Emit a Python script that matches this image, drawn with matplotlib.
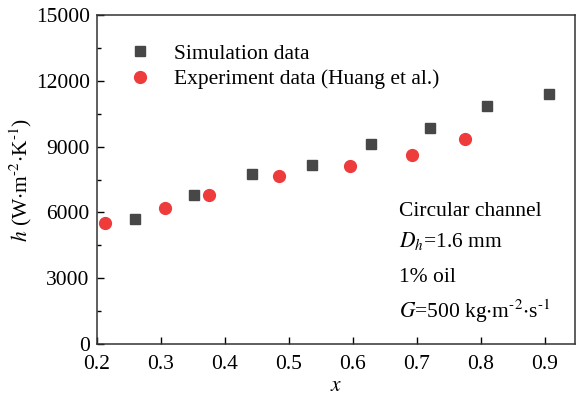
import matplotlib
matplotlib.use('Agg')
import matplotlib.pyplot as plt
from matplotlib.ticker import MultipleLocator

plt.rcParams['font.family'] = ['Liberation Serif', 'DejaVu Serif']
plt.rcParams['mathtext.fontset'] = 'stix'

# simulation data
x_sim = [0.26, 0.352, 0.443, 0.536, 0.629, 0.72, 0.81, 0.907]
h_sim = [5700, 6790, 7750, 8160, 9120, 9850, 10850, 11400]

# experiment data (Huang et al.)
x_exp = [0.213, 0.306, 0.375, 0.484, 0.596, 0.692, 0.776]
h_exp = [5500, 6210, 6790, 7670, 8100, 8600, 9330]

fig = plt.figure(figsize=(5.79, 4.0), dpi=100)
ax = fig.add_axes([0.167, 0.14, 0.826, 0.822])

ax.plot(x_sim, h_sim, 's', color='#474747', markersize=7.5, label='Simulation data')
ax.plot(x_exp, h_exp, 'o', color='#ee3b3b', markersize=8.5, label='Experiment data (Huang et al.)')

ax.set_xlim(0.2, 0.947)
ax.set_ylim(0, 15000)
ax.set_xticks([0.2, 0.3, 0.4, 0.5, 0.6, 0.7, 0.8, 0.9])
ax.set_yticks([0, 3000, 6000, 9000, 12000, 15000])
ax.yaxis.set_minor_locator(MultipleLocator(1500))
ax.tick_params(axis='both', which='both', direction='in', labelsize=15.5)
ax.tick_params(which='major', length=5, width=1)
ax.tick_params(which='minor', length=3, width=1)
ax.tick_params(axis='x', pad=8)
ax.tick_params(axis='y', pad=5)
for s in ax.spines.values():
    s.set_linewidth(1.1)
    s.set_color('#333333')

sup = lambda n: r'$^{\text{-}' + n + '}$'
ax.set_xlabel('$x$', fontsize=15.5, labelpad=2)
ax.set_ylabel(r'$h$ (W$\cdot$m' + sup('2') + r'$\cdot$K' + sup('1') + ')', fontsize=15.5, labelpad=1)

ax.legend(loc='upper left', frameon=False, fontsize=15.5, bbox_to_anchor=(0.02, 0.965),
          handletextpad=0.85, labelspacing=0.25, handlelength=1.5, borderpad=0.3)

tx = 0.633
fs = 15.5
ax.text(tx, 0.39, 'Circular channel', transform=ax.transAxes, fontsize=fs)
ax.text(tx, 0.295, r'$D_h$=1.6 mm', transform=ax.transAxes, fontsize=fs)
ax.text(tx, 0.19, '1% oil', transform=ax.transAxes, fontsize=fs)
ax.text(tx, 0.08, r'$G$=500 kg$\cdot$m' + sup('2') + r'$\cdot$s' + sup('1'), transform=ax.transAxes, fontsize=fs)

plt.savefig('out.png', dpi=100)
